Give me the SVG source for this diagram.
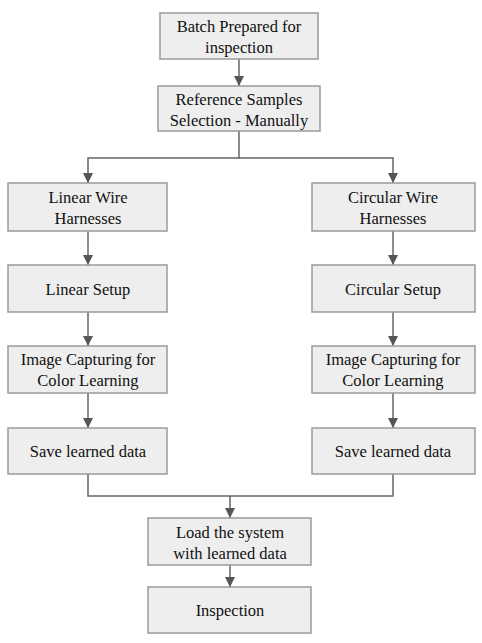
<svg xmlns="http://www.w3.org/2000/svg" width="482" height="643" viewBox="0 0 482 643">
<style>
.box{fill:#eeeeee;stroke:#9a9a9a;stroke-width:1.5}
.t{font-family:"Liberation Serif",serif;font-size:16.5px;fill:#111;text-anchor:middle}
.c{fill:none;stroke:#666;stroke-width:1.5}
</style>
<defs>
<marker id="a" viewBox="0 0 10 10" refX="10" refY="5" markerWidth="10" markerHeight="10" markerUnits="userSpaceOnUse" orient="auto">
<path d="M0,0 L10,5 L0,10 z" fill="#555"/>
</marker>
</defs>
<rect width="482" height="643" fill="#fff"/>
<g id="connectors">
<path class="c" d="M239,59 V86" marker-end="url(#a)"/>
<path class="c" d="M239,131 V158 H88 V183" marker-end="url(#a)"/>
<path class="c" d="M239,158 H393 V183" marker-end="url(#a)"/>
<path class="c" d="M88,231 V265" marker-end="url(#a)"/>
<path class="c" d="M88,312 V346" marker-end="url(#a)"/>
<path class="c" d="M88,393 V428" marker-end="url(#a)"/>
<path class="c" d="M393,231 V265" marker-end="url(#a)"/>
<path class="c" d="M393,312 V346" marker-end="url(#a)"/>
<path class="c" d="M393,393 V428" marker-end="url(#a)"/>
<path class="c" d="M88,474 V496 H393 V474"/>
<path class="c" d="M230,496 V518" marker-end="url(#a)"/>
<path class="c" d="M230,565 V587" marker-end="url(#a)"/>
</g>
<g id="n1"><rect class="box" x="160" y="13" width="158" height="46"/><text class="t" x="239" y="32">Batch Prepared for</text><text class="t" x="239" y="53">inspection</text></g>
<g id="n2"><rect class="box" x="158" y="86" width="162" height="45"/><text class="t" x="239" y="105">Reference Samples</text><text class="t" x="239" y="126">Selection - Manually</text></g>
<g id="n3"><rect class="box" x="8" y="183" width="159" height="48"/><text class="t" x="88" y="203">Linear Wire</text><text class="t" x="88" y="224">Harnesses</text></g>
<g id="n4"><rect class="box" x="8" y="265" width="159" height="47"/><text class="t" x="88" y="295">Linear Setup</text></g>
<g id="n5"><rect class="box" x="8" y="346" width="159" height="47"/><text class="t" x="88" y="365">Image Capturing for</text><text class="t" x="88" y="386">Color Learning</text></g>
<g id="n6"><rect class="box" x="8" y="428" width="159" height="46"/><text class="t" x="88" y="457">Save learned data</text></g>
<g id="n7"><rect class="box" x="312" y="183" width="163" height="48"/><text class="t" x="393" y="203">Circular Wire</text><text class="t" x="393" y="224">Harnesses</text></g>
<g id="n8"><rect class="box" x="312" y="265" width="163" height="47"/><text class="t" x="393" y="295">Circular Setup</text></g>
<g id="n9"><rect class="box" x="312" y="346" width="163" height="47"/><text class="t" x="393" y="365">Image Capturing for</text><text class="t" x="393" y="386">Color Learning</text></g>
<g id="n10"><rect class="box" x="312" y="428" width="163" height="46"/><text class="t" x="393" y="457">Save learned data</text></g>
<g id="n11"><rect class="box" x="148" y="518" width="163" height="47"/><text class="t" x="230" y="538">Load the system</text><text class="t" x="230" y="559">with learned data</text></g>
<g id="n12"><rect class="box" x="148" y="587" width="163" height="46"/><text class="t" x="230" y="616">Inspection</text></g>
</svg>
